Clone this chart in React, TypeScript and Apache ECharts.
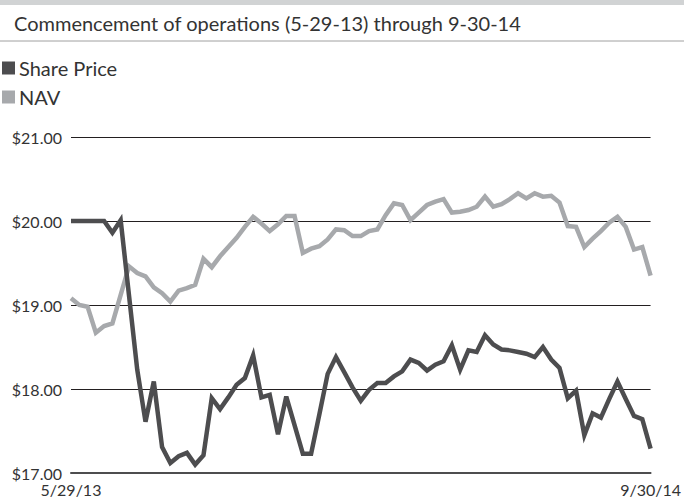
import React, { useEffect, useRef } from "react";
import * as echarts from "echarts";

const titleText = "Commencement of operations (5-29-13) through 9-30-14";
const seriesNames = ["Share Price", "NAV"];
const firstDate = "5/29/13";
const lastDate = "9/30/14";
const yTicks = [17, 18, 19, 20, 21];

const sharePrice = [
  20.0, 20.0, 20.0, 20.0, 20.0, 19.86, 20.01, 19.12, 18.23, 17.61,
  18.09, 17.31, 17.12, 17.2, 17.24, 17.1, 17.21, 17.89, 17.76, 17.9,
  18.05, 18.13, 18.4, 17.9, 17.93, 17.46, 17.91, 17.57, 17.23, 17.23,
  17.7, 18.18, 18.38, 18.2, 18.02, 17.86, 17.99, 18.07, 18.07, 18.15,
  18.21, 18.35, 18.31, 18.22, 18.29, 18.33, 18.52, 18.23, 18.46, 18.44,
  18.64, 18.53, 18.47, 18.46, 18.44, 18.42, 18.38, 18.5, 18.35, 18.25,
  17.89, 17.98, 17.45, 17.71, 17.66, 17.88, 18.09, 17.88, 17.68, 17.64,
  17.29,
];

const nav = [
  19.08, 19.0, 18.98, 18.67, 18.75, 18.78, 19.12, 19.46, 19.38, 19.34,
  19.21, 19.14, 19.04, 19.17, 19.2, 19.24, 19.55, 19.45, 19.58, 19.69,
  19.8, 19.93, 20.05, 19.97, 19.88, 19.96, 20.06, 20.06, 19.62, 19.67,
  19.7, 19.78, 19.9, 19.89, 19.82, 19.82, 19.88, 19.9, 20.07, 20.21,
  20.19, 20.01, 20.1, 20.19, 20.23, 20.26, 20.1, 20.11, 20.13, 20.17,
  20.29, 20.17, 20.2, 20.26, 20.33, 20.27, 20.33, 20.29, 20.3, 20.22,
  19.94, 19.93, 19.69, 19.79, 19.88, 19.98, 20.05, 19.93, 19.66, 19.69,
  19.35,
];

const categories = sharePrice.map((_, i) =>
  i === 0 ? firstDate : i === sharePrice.length - 1 ? lastDate : ""
);

const DARK = "#4d4d4f";
const LIGHT = "#a7a9ac";
const TEXT = "#333333";
const FONT = "Lato, 'Open Sans', sans-serif";

export default function App() {
  const ref = useRef<HTMLDivElement>(null);

  useEffect(() => {
    if (!ref.current) return;
    const chart = echarts.init(ref.current, undefined, { renderer: "svg" });
    chart.setOption({
      animation: false,
      backgroundColor: "#ffffff",
      textStyle: { fontFamily: FONT },
      title: {
        text: titleText,
        left: 9,
        top: 8,
        textStyle: { fontSize: 20, fontWeight: "normal", color: TEXT, fontFamily: FONT },
      },
      graphic: [
        {
          type: "rect",
          shape: { x: 0, y: 0, width: 684, height: 5 },
          style: { fill: "#d1d3d4" },
          silent: true,
        },
        {
          type: "line",
          shape: { x1: 0, y1: 41, x2: 684, y2: 41 },
          style: { stroke: "#a0a0a0", lineWidth: 1 },
          silent: true,
        },
      ],
      legend: {
        data: [
          { name: seriesNames[0], itemStyle: { color: DARK } },
          { name: seriesNames[1], itemStyle: { color: LIGHT } },
        ],
        orient: "vertical",
        left: 2,
        top: 57,
        icon: "rect",
        itemWidth: 13,
        itemHeight: 13,
        itemGap: 7,
        padding: 0,
        selectedMode: false,
        textStyle: { fontSize: 20, color: TEXT, fontFamily: FONT, lineHeight: 22, padding: [0, 0, 0, -1] },
      },
      grid: { left: 71, right: 33, top: 137, bottom: 25, containLabel: false },
      xAxis: {
        type: "category",
        data: categories,
        boundaryGap: false,
        axisLine: { show: true, lineStyle: { color: DARK, width: 2 } },
        axisTick: { show: false },
        splitLine: { show: false },
        axisLabel: {
          interval: 0,
          margin: 8,
          fontSize: 16,
          color: TEXT,
          fontFamily: FONT,
        },
      },
      yAxis: {
        type: "value",
        min: yTicks[0],
        max: yTicks[yTicks.length - 1],
        interval: 1,
        axisLine: { show: false },
        axisTick: { show: false },
        splitLine: { show: true, lineStyle: { color: "#231f20", width: 1 } },
        axisLabel: {
          margin: 9,
          fontSize: 16,
          color: TEXT,
          fontFamily: FONT,
          formatter: (v: number) => "$" + v.toFixed(2),
        },
      },
      series: [
        {
          name: seriesNames[1],
          type: "line",
          data: nav,
          symbol: "none",
          color: LIGHT,
          lineStyle: { color: LIGHT, width: 4.5, join: "miter" },
          z: 2,
        },
        {
          name: seriesNames[0],
          type: "line",
          data: sharePrice,
          symbol: "none",
          color: DARK,
          lineStyle: { color: DARK, width: 4.5, join: "miter" },
          z: 3,
        },
      ],
    });
    return () => chart.dispose();
  }, []);

  return (
    <div
      ref={ref}
      style={{ position: "fixed", left: 0, top: 0, width: 684, height: 498 }}
    />
  );
}
